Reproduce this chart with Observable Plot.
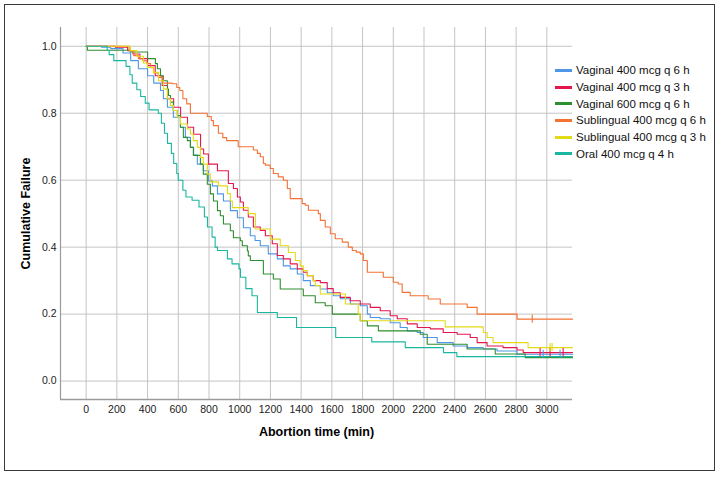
<!DOCTYPE html>
<html>
<head>
<meta charset="utf-8">
<script src="https://cdn.jsdelivr.net/npm/d3@7"></script>
<script src="https://cdn.jsdelivr.net/npm/@observablehq/plot@0.6"></script>
<style>
  html, body { margin: 0; padding: 0; background: #fff; }
  #wrap { position: relative; width: 721px; height: 479px; overflow: hidden; font-family: "Liberation Sans", Arial, sans-serif; }
  #border { position: absolute; left: 4px; top: 4px; width: 711px; height: 467px; box-sizing: border-box; border: 1.5px solid #3a3a3a; pointer-events: none; }
  #legend { position: absolute; left: 555px; top: 62px; font-size: 11.5px; color: #111; }
  .row { height: 16.7px; display: flex; align-items: center; white-space: nowrap; }
  .sw { width: 17px; height: 3px; margin-right: 4px; }
  g[aria-label="x-axis label"] text, g[aria-label="y-axis label"] text { font-weight: bold; font-size: 12.5px; fill: #000; }
</style>
</head>
<body>
<div id="wrap"><div id="border"></div><div id="legend"></div></div>
<script>
// ---- Data ----
const seriesNames = [
  "Vaginal 400 mcg q 6 h",
  "Vaginal 400 mcg q 3 h",
  "Vaginal 600 mcg q 6 h",
  "Sublingual 400 mcg q 6 h",
  "Sublingual 400 mcg q 3 h",
  "Oral 400 mcg q 4 h"
];
const seriesColors = ["#4f96e6", "#e3174e", "#2f8f2f", "#f47234", "#e3da16", "#19b7a0"];

const xTicks = [0, 200, 400, 600, 800, 1000, 1200, 1400, 1600, 1800, 2000, 2200, 2400, 2600, 2800, 3000];
const yTicks = [0.0, 0.2, 0.4, 0.6, 0.8, 1.0];
const xDomain = [-167, 3167];
const yDomain = [-0.055, 1.056];

// [time (min), cumulative failure]
const vaginal400q6 = [[0,1],[100,0.997],[160,0.993],[240,0.98],[290,0.957],[340,0.933],[400,0.912],[440,0.89],[484,0.868],[503,0.843],[529,0.818],[568,0.788],[614,0.758],[646,0.728],[679,0.698],[700,0.675],[724,0.648],[763,0.628],[796,0.598],[822,0.583],[855,0.559],[894,0.538],[939,0.509],[985,0.488],[1024,0.458],[1069,0.434],[1100,0.42],[1134,0.404],[1186,0.38],[1245,0.365],[1284,0.344],[1329,0.335],[1375,0.32],[1414,0.30],[1460,0.285],[1525,0.275],[1570,0.264],[1609,0.255],[1655,0.246],[1720,0.23],[1785,0.225],[1831,0.20],[1850,0.19],[1915,0.186],[1980,0.174],[2045,0.16],[2091,0.15],[2156,0.145],[2195,0.13],[2286,0.115],[2390,0.105],[2481,0.10],[2585,0.096],[2676,0.09],[2806,0.08],[3167,0.08]];
const vaginal400q3 = [[0,1],[190,0.997],[270,0.987],[305,0.977],[350,0.963],[400,0.942],[450,0.912],[495,0.883],[530,0.843],[570,0.818],[615,0.788],[660,0.758],[700,0.737],[745,0.693],[765,0.678],[796,0.648],[855,0.628],[926,0.59],[959,0.575],[985,0.55],[1004,0.535],[1024,0.51],[1056,0.49],[1089,0.46],[1134,0.45],[1167,0.434],[1212,0.41],[1245,0.375],[1284,0.365],[1329,0.35],[1375,0.335],[1414,0.325],[1440,0.315],[1479,0.30],[1525,0.294],[1570,0.276],[1609,0.264],[1655,0.25],[1720,0.24],[1785,0.23],[1850,0.22],[1915,0.21],[1980,0.195],[2026,0.186],[2091,0.171],[2156,0.16],[2241,0.156],[2325,0.145],[2416,0.14],[2501,0.13],[2546,0.115],[2611,0.105],[2715,0.10],[2806,0.093],[2846,0.085],[3167,0.085]];
const vaginal600q6 = [[0,1],[8,0.988],[288,0.983],[400,0.963],[451,0.948],[464,0.933],[484,0.912],[503,0.897],[529,0.872],[536,0.853],[549,0.833],[568,0.808],[594,0.793],[614,0.758],[633,0.728],[659,0.718],[679,0.698],[698,0.674],[744,0.648],[763,0.618],[789,0.588],[809,0.559],[829,0.538],[855,0.509],[874,0.494],[894,0.469],[939,0.449],[959,0.428],[1004,0.419],[1017,0.404],[1050,0.389],[1056,0.374],[1069,0.36],[1154,0.32],[1219,0.305],[1264,0.275],[1414,0.255],[1492,0.234],[1557,0.225],[1603,0.20],[1785,0.18],[1831,0.165],[1903,0.15],[2176,0.14],[2221,0.11],[2481,0.096],[2664,0.081],[2859,0.07],[3167,0.07]];
const sublingual400q6 = [[0,1],[280,0.987],[310,0.972],[340,0.963],[370,0.957],[395,0.948],[420,0.936],[440,0.92],[470,0.907],[500,0.89],[560,0.888],[590,0.877],[610,0.868],[630,0.843],[655,0.828],[679,0.80],[789,0.79],[815,0.778],[829,0.763],[861,0.74],[890,0.727],[915,0.718],[990,0.70],[1089,0.69],[1115,0.68],[1134,0.67],[1154,0.65],[1167,0.645],[1199,0.635],[1219,0.62],[1251,0.61],[1284,0.60],[1310,0.575],[1329,0.545],[1407,0.53],[1427,0.525],[1447,0.51],[1512,0.50],[1525,0.48],[1557,0.46],[1590,0.44],[1622,0.425],[1668,0.415],[1707,0.40],[1733,0.39],[1759,0.385],[1785,0.38],[1805,0.36],[1831,0.325],[1935,0.31],[2000,0.295],[2032,0.29],[2058,0.265],[2110,0.255],[2227,0.245],[2306,0.23],[2481,0.22],[2546,0.20],[2806,0.185],[3167,0.185]];
const sublingual400q3 = [[0,1],[288,0.987],[330,0.97],[373,0.95],[399,0.937],[438,0.922],[471,0.897],[503,0.872],[529,0.843],[549,0.823],[568,0.808],[594,0.788],[614,0.768],[659,0.753],[679,0.738],[698,0.718],[724,0.698],[744,0.668],[763,0.648],[789,0.618],[809,0.595],[861,0.583],[920,0.56],[939,0.538],[952,0.518],[1056,0.50],[1102,0.454],[1199,0.424],[1264,0.404],[1317,0.384],[1362,0.36],[1394,0.344],[1414,0.33],[1440,0.315],[1479,0.30],[1492,0.285],[1525,0.26],[1688,0.23],[1772,0.20],[1785,0.18],[2338,0.162],[2586,0.145],[2611,0.13],[2650,0.115],[2878,0.10],[3167,0.10]];
const oral400q4 = [[0,1],[137,0.988],[150,0.975],[180,0.957],[260,0.94],[285,0.915],[300,0.89],[330,0.87],[355,0.85],[385,0.83],[410,0.81],[470,0.80],[490,0.77],[510,0.74],[530,0.71],[555,0.68],[570,0.65],[590,0.62],[600,0.60],[630,0.57],[650,0.55],[690,0.54],[735,0.52],[770,0.49],[790,0.46],[820,0.43],[840,0.40],[855,0.39],[920,0.365],[950,0.35],[995,0.335],[1005,0.31],[1040,0.276],[1080,0.255],[1115,0.205],[1245,0.19],[1370,0.16],[1625,0.13],[1860,0.117],[2078,0.10],[2327,0.085],[2414,0.073],[3167,0.073]];

// censored observations: [series index, time, value]
const censored = [[1,2956,0.085],[1,3021,0.085],[1,3106,0.085],[0,2976,0.08],[0,3086,0.08],[4,3021,0.10],[4,3034,0.10],[3,2905,0.185]];

// ---- Build table ----
const allSeries = [vaginal400q6, vaginal400q3, vaginal600q6, sublingual400q6, sublingual400q3, oral400q4];
const rows = [];
allSeries.forEach((s, i) => s.forEach(([t, v]) => rows.push({series: seriesNames[i], t, v})));
const censorRows = censored.map(([i, t, v]) => ({series: seriesNames[i], t, v}));

const chart = Plot.plot({
  width: 721,
  height: 479,
  marginLeft: 60,
  marginRight: 149,
  marginTop: 27,
  marginBottom: 80,
  style: {fontFamily: "'Liberation Sans', Arial, sans-serif", fontSize: "10.5px", color: "#222", background: "transparent", overflow: "visible"},
  x: {domain: xDomain},
  y: {domain: yDomain},
  color: {domain: seriesNames, range: seriesColors},
  marks: [
    Plot.gridX(xTicks, {stroke: "#c4c4c4", strokeOpacity: 1, strokeWidth: 1}),
    Plot.gridY(yTicks, {stroke: "#c4c4c4", strokeOpacity: 1, strokeWidth: 1}),
    Plot.ruleX([xDomain[0]], {stroke: "#9a9a9a", strokeWidth: 1.2}),
    Plot.ruleY([yDomain[0]], {stroke: "#9a9a9a", strokeWidth: 1.5}),
    Plot.axisX(xTicks, {tickSize: 0, tickPadding: 6, tickFormat: d => String(d), label: "Abortion time (min)", labelAnchor: "center", labelOffset: 36, labelArrow: "none", fill: "#222"}),
    Plot.axisY(yTicks, {tickSize: 0, tickPadding: 4, tickFormat: d3.format(".1f"), label: "Cumulative Failure", labelAnchor: "center", labelOffset: 39, labelArrow: "none", fill: "#222"}),
    Plot.line(rows, {x: "t", y: "v", z: "series", stroke: "series", curve: "step-after", strokeWidth: 1.1}),
    Plot.ruleX(censorRows, {x: "t", y1: d => d.v - 0.012, y2: d => d.v + 0.012, stroke: "series", strokeWidth: 1.1})
  ]
});
document.getElementById("wrap").insertBefore(chart, document.getElementById("border"));
chart.style.position = "absolute";
chart.style.left = "0px";
chart.style.top = "0px";

// ---- Legend ----
const legend = document.getElementById("legend");
seriesNames.forEach((name, i) => {
  const row = document.createElement("div");
  row.className = "row";
  const sw = document.createElement("div");
  sw.className = "sw";
  sw.style.background = seriesColors[i];
  const tx = document.createElement("span");
  tx.textContent = name;
  row.appendChild(sw);
  row.appendChild(tx);
  legend.appendChild(row);
});
</script>
</body>
</html>
